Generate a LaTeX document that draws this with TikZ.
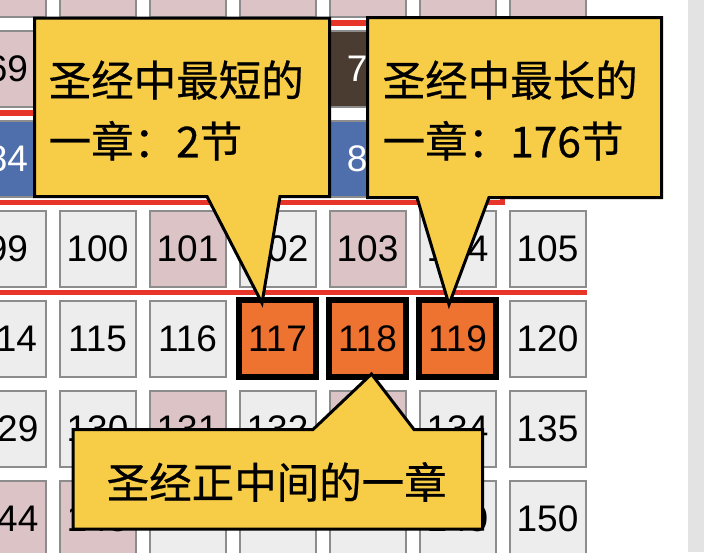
\documentclass[tikz,border=0pt]{standalone}
\usepackage{fontspec}
\newfontfamily\numfont{Liberation Sans}
\newfontfamily\cjkfont[FakeBold=0.6]{Noto Sans CJK SC}
\definecolor{cellwhite}{HTML}{EDEDED}
\definecolor{cellpink}{HTML}{DCC4C6}
\definecolor{cellblue}{HTML}{4F6FAC}
\definecolor{cellbrown}{HTML}{4A3C30}
\definecolor{cellborder}{HTML}{8C8C8C}
\definecolor{hotorange}{HTML}{EE7230}
\definecolor{calloutyellow}{HTML}{F7CC46}
\definecolor{bookred}{HTML}{E8352A}
\definecolor{sidebar}{HTML}{E3E3E3}
\tikzset{
  basecell/.style={draw=cellborder, line width=2, minimum size=76, inner sep=0,
    font=\numfont\fontsize{37}{40}\selectfont},
  plaincell/.style={basecell, fill=cellwhite},
  davidcell/.style={basecell, fill=cellpink},
  korahcell/.style={basecell, fill=cellblue, text=white},
  asaphcell/.style={basecell, fill=cellbrown, text=white},
  hotcell/.style={draw=black, line width=6, minimum size=77, inner sep=0, fill=hotorange,
    font=\numfont\fontsize{37}{40}\selectfont},
  redline/.style={draw=bookred, line width=5.5},
  calloutbox/.style={draw=black, line width=3, fill=calloutyellow, line join=miter},
  calltext/.style={inner sep=0, align=left, anchor=west,
    font=\cjkfont\fontsize{42.5}{61}\selectfont}
}
\begin{document}
\begin{tikzpicture}[x=1pt,y=-1pt]
\useasboundingbox (0,0) rectangle (704,552);
\clip (0,0) rectangle (704,552);
\fill[white] (0,0) rectangle (704,552);
\fill[sidebar] (688,0) rectangle (704,552);
% grid of chapters (visible right part)
\foreach \c/\r/\s/\n/\t in {
  0/-1/davidcell/54/,1/-1/davidcell/55/,2/-1/davidcell/56/,3/-1/davidcell/57/,
  4/-1/davidcell/58/,5/-1/davidcell/59/,6/-1/davidcell/60/,
  0/0/davidcell/69/69,1/0/davidcell/70/,2/0/plaincell/71/,3/0/plaincell/72/,
  4/0/asaphcell/73/73,5/0/asaphcell/74/,6/0/asaphcell/75/,
  0/1/korahcell/84/84,1/1/korahcell/85/,2/1/davidcell/86/,3/1/korahcell/87/,
  4/1/korahcell/88/88,5/1/plaincell/89/,6/1/plaincell/90/,
  0/2/plaincell/99/99,1/2/plaincell/100/100,2/2/davidcell/101/101,3/2/plaincell/102/102,
  4/2/davidcell/103/103,5/2/plaincell/104/104,6/2/plaincell/105/105,
  0/3/plaincell/114/114,1/3/plaincell/115/115,2/3/plaincell/116/116,6/3/plaincell/120/120,
  0/4/plaincell/129/129,1/4/plaincell/130/130,2/4/davidcell/131/131,3/4/plaincell/132/132,
  4/4/davidcell/133/133,5/4/plaincell/134/134,6/4/plaincell/135/135,
  0/5/davidcell/144/144,1/5/davidcell/145/145,2/5/plaincell/146/,3/5/plaincell/147/,
  4/5/plaincell/148/,5/5/plaincell/149/149,6/5/plaincell/150/150}
  \node[\s] (n\n) at ({7.5+90*\c},{68.5+90*\r}) {\t};
% book boundaries
\draw[redline] (-5,113) -- (322.5,113) -- (322.5,23) -- (586.5,23);
\draw[redline] (-5,202.5) -- (502.5,202.5) -- (502.5,113) -- (586.5,113);
\draw[redline] (-5,292.5) -- (586.5,292.5);
% highlighted chapters
\node[hotcell] (n117) at (277.5,338.5) {117};
\node[hotcell] (n118) at (367.5,338.5) {118};
\node[hotcell] (n119) at (457.5,338.5) {119};
% callouts
\coordinate (tip1) at (262,303);
\coordinate (tip2) at (449,304.5);
\coordinate (tip3) at (371.5,374);
\draw[calloutbox] (34.5,18) -- (329.5,18) -- (329.5,196.5) -- (280,196.5) -- (tip1)
  -- (207,196.5) -- (34.5,196.5) -- cycle;
\node[calltext] (t1) at (48.5,110.5) {圣经中最短的\\一章：2节};
\draw[calloutbox] (367.5,17.5) -- (661.5,17.5) -- (661.5,197.5) -- (489,197.5) -- (tip2)
  -- (417,197.5) -- (367.5,197.5) -- cycle;
\node[calltext] (t2) at (382.5,110.5) {圣经中最长的\\一章：176节};
\draw[calloutbox] (73,429.5) -- (313,429.5) -- (tip3) -- (414,429.5) -- (482.5,429.5)
  -- (482.5,529) -- (73,529) -- cycle;
\node[calltext] (t3) at (106.5,482) {圣经正中间的一章};
\end{tikzpicture}
\end{document}
